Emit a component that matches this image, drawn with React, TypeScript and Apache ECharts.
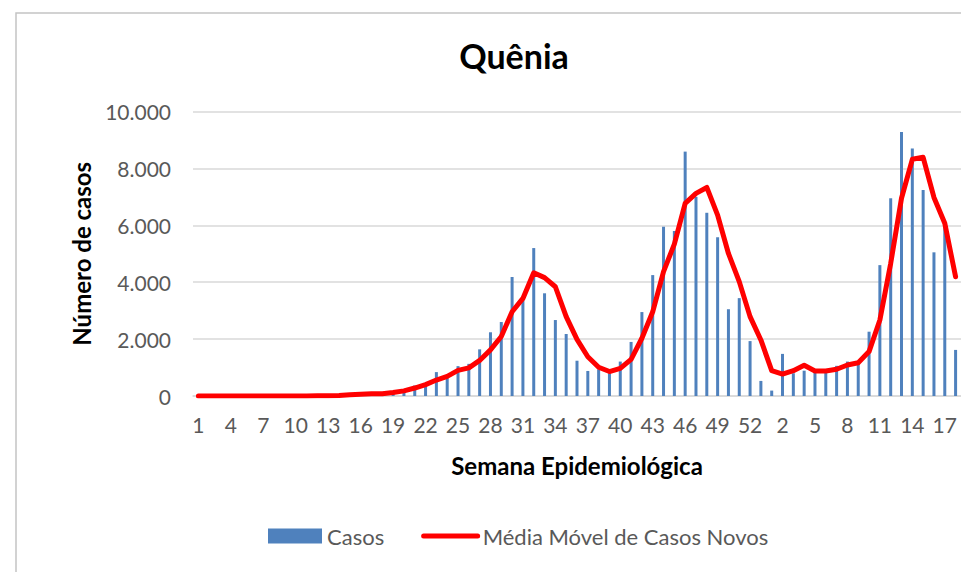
import React, { useEffect, useRef } from "react";
import * as echarts from "echarts";

const semanas = [
  "1", "2", "3", "4", "5", "6", "7", "8", "9", "10",
  "11", "12", "13", "14", "15", "16", "17", "18", "19", "20",
  "21", "22", "23", "24", "25", "26", "27", "28", "29", "30",
  "31", "32", "33", "34", "35", "36", "37", "38", "39", "40",
  "41", "42", "43", "44", "45", "46", "47", "48", "49", "50",
  "51", "52", "53",
  "1", "2", "3", "4", "5", "6", "7", "8", "9", "10",
  "11", "12", "13", "14", "15", "16", "17", "18",
];

const casos = [
  0, 0, 0, 0, 0, 0, 0, 0, 0, 0,
  3, 20, 30, 60, 90, 80, 70, 100, 140, 220,
  370, 450, 840, 630, 1050, 1130, 1640, 2240, 2600, 4180,
  3450, 5200, 3610, 2670, 2180, 1240, 880, 940, 800, 1210,
  1900, 2950, 4250, 5950, 5800, 8590, 7000, 6440, 5580, 3050,
  3440, 1930, 530, 190, 1480, 800, 890, 820, 850, 1060,
  1210, 1150, 2260, 4600, 6950, 9280, 8700, 7240, 5050, 6000,
  1620,
];

const mediaMovel = [
  0, 0, 0, 0, 0, 0, 0, 0, 0, 0,
  0, 5, 10, 20, 40, 65, 75, 80, 120, 180,
  280, 400, 560, 690, 900, 990, 1250, 1620, 2090, 2960,
  3430, 4330, 4160, 3840, 2790, 1990, 1380, 1010, 860, 970,
  1290, 2030, 2960, 4370, 5340, 6770, 7120, 7330, 6360, 5010,
  4020, 2790, 1970, 890, 770, 890, 1080, 880, 880, 940,
  1090, 1170, 1560, 2670, 4660, 6950, 8320, 8390, 6980, 6070,
  4190,
];

const FONT = "Lato";

function fmt(v: number): string {
  const s = String(Math.round(v));
  return s.replace(/\B(?=(\d{3})+(?!\d))/g, ".");
}

export default function App() {
  const ref = useRef<HTMLDivElement>(null);
  useEffect(() => {
    const chart = echarts.init(ref.current!, null, { renderer: "svg" });
    chart.setOption({
      animation: false,
      backgroundColor: "#ffffff",
      textStyle: { fontFamily: FONT },
      title: {
        text: "Quênia",
        left: 514,
        top: 38,
        textAlign: "center",
        padding: 0,
        textStyle: { fontFamily: FONT, fontSize: 34, fontWeight: "bold", color: "#000000" },
      },
      graphic: [
        {
          type: "rect",
          shape: { x: 16, y: 13, width: 1100, height: 700 },
          style: { fill: "none", stroke: "#c4c4c4", lineWidth: 1.5 },
          silent: true,
        },
      ],
      legend: {
        left: 268,
        top: 525,
        padding: 0,
        itemWidth: 54,
        itemHeight: 15,
        itemGap: 37,
        textStyle: { fontFamily: FONT, fontSize: 22, color: "#595959" },
        data: [
          { name: "Casos", icon: "rect" },
          {
            name: "Média Móvel de Casos Novos",
            itemStyle: { opacity: 0 },
            lineStyle: { width: 5, cap: "round", color: "#ff0000" },
          },
        ],
      },
      grid: { left: 193, top: 111.5, width: 770, bottom: 176, containLabel: false },
      xAxis: {
        type: "category",
        data: semanas,
        name: "Semana Epidemiológica",
        nameLocation: "middle",
        nameGap: 57,
        nameTextStyle: { fontFamily: FONT, fontSize: 24, fontWeight: "bold", color: "#000000" },
        axisTick: { show: false },
        axisLine: { lineStyle: { color: "#d9d9d9", width: 1.5 } },
        axisLabel: { interval: 2, color: "#595959", fontSize: 21, margin: 18, fontFamily: FONT },
      },
      yAxis: {
        type: "value",
        min: 0,
        max: 10000,
        interval: 2000,
        name: "Número de casos",
        nameLocation: "middle",
        nameGap: 100,
        nameTextStyle: { fontFamily: FONT, fontSize: 24, fontWeight: "bold", color: "#000000" },
        axisLine: { show: false },
        axisTick: { show: false },
        splitLine: { lineStyle: { color: "#d9d9d9", width: 1.5 } },
        axisLabel: { color: "#595959", fontSize: 21, margin: 22, fontFamily: FONT, formatter: (v: number) => fmt(v) },
      },
      series: [
        {
          name: "Casos",
          type: "bar",
          data: casos,
          barWidth: 3,
          itemStyle: { color: "#4f81bd" },
        },
        {
          name: "Média Móvel de Casos Novos",
          type: "line",
          data: mediaMovel,
          symbol: "none",
          showSymbol: false,
          smooth: false,
          lineStyle: { color: "#ff0000", width: 5, cap: "round", join: "round" },
          itemStyle: { color: "#ff0000" },
        },
      ],
    });
    return () => chart.dispose();
  }, []);
  return (
    <div
      ref={ref}
      style={{ position: "absolute", left: 0, top: 0, width: 961, height: 572, background: "#fff" }}
    />
  );
}
